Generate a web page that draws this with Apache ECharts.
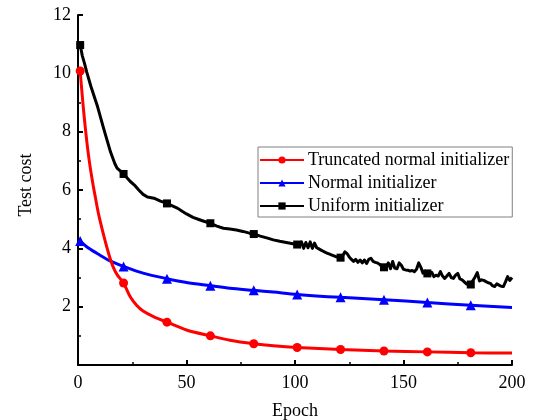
<!DOCTYPE html>
<html>
<head>
<meta charset="utf-8">
<script src="https://cdn.jsdelivr.net/npm/echarts@6/dist/echarts.min.js"></script>
<style>
  html, body { margin: 0; padding: 0; background: #fff; }
  #chart { width: 533px; height: 420px; }
</style>
</head>
<body>
<div id="chart"></div>
<script>
// Test cost per training epoch for three weight initializers
const seriesNames = ['Truncated normal initializer', 'Normal initializer', 'Uniform initializer'];

const truncEpochs = [1, 2, 3, 4, 5, 6, 7, 8, 9, 10, 12, 14, 16, 18, 21, 24, 27, 30, 35, 41, 50, 61, 70, 81, 90, 101, 121, 141, 161, 181, 200];
const truncCost   = [10.08, 9.2, 8.4, 7.7, 7.1, 6.6, 6.15, 5.75, 5.35, 5.0, 4.4, 3.85, 3.4, 3.1, 2.81, 2.35, 2.05, 1.85, 1.65, 1.47, 1.2, 1.0, 0.85, 0.73, 0.66, 0.6, 0.53, 0.48, 0.45, 0.42, 0.41];

const normalEpochs = [1, 5, 10, 15, 21, 30, 41, 50, 61, 70, 81, 90, 101, 121, 141, 161, 181, 200];
const normalCost   = [4.25, 4.0, 3.77, 3.56, 3.38, 3.15, 2.96, 2.83, 2.72, 2.63, 2.56, 2.5, 2.42, 2.32, 2.24, 2.14, 2.05, 1.97];

const uniformEpochs = [1, 2, 3, 4, 6, 9, 12, 15, 17, 18, 21, 24, 26, 28, 30, 32, 35, 38, 41, 44, 46, 48, 50, 53, 56, 58, 61, 64, 67, 70, 73, 76, 79, 81, 84, 87, 90, 93, 96, 99,
  100, 101, 102, 103, 104, 105, 106, 107, 108, 109, 110, 111, 112, 113, 114, 115, 116, 117, 118, 119,
  120, 121, 122, 123, 124, 125, 126, 127, 128, 129, 130, 131, 132, 133, 134, 135, 136, 137, 138, 139,
  140, 141, 142, 143, 144, 145, 146, 147, 148, 149, 150, 151, 152, 153, 154, 155, 156, 157, 158, 159,
  160, 161, 162, 163, 164, 165, 166, 167, 168, 169, 170, 171, 172, 173, 174, 175, 176, 177, 178, 179,
  180, 181, 182, 183, 184, 185, 186, 187, 188, 189, 190, 191, 192, 193, 194, 195, 196, 197, 198, 199, 200];
const uniformCost = [10.97, 10.6, 10.34, 10.05, 9.54, 8.86, 8.06, 7.3, 6.9, 6.75, 6.55, 6.3, 6.17, 6.0, 5.85, 5.76, 5.72, 5.62, 5.54, 5.44, 5.37, 5.27, 5.18, 5.06, 4.98, 4.93, 4.86, 4.76, 4.69, 4.66, 4.63, 4.58, 4.52, 4.49, 4.42, 4.36, 4.29, 4.24, 4.2, 4.16,
  4.15, 4.13, 4.08, 4.22, 4.0, 4.2, 4.02, 4.22, 4.0, 4.18, 4.02, 3.98, 3.94, 3.9, 3.86, 3.83, 3.8, 3.77, 3.74, 3.71,
  3.69, 3.68, 3.75, 3.88, 3.82, 3.7, 3.62, 3.55, 3.62, 3.52, 3.6, 3.5, 3.6, 3.48, 3.62, 3.66, 3.55, 3.52, 3.5, 3.45,
  3.38, 3.35, 3.38, 3.5, 3.3, 3.55, 3.32, 3.3, 3.5, 3.42, 3.28, 3.26, 3.25, 3.22, 3.24, 3.2, 3.28, 3.5, 3.35, 3.15,
  3.22, 3.14, 3.1, 3.18, 3.03, 3.08, 3.05, 3.2, 3.05, 2.97, 3.05, 3.14, 3.0, 2.97, 3.08, 3.14, 2.95, 2.92, 2.85, 2.78,
  2.75, 2.76, 2.9, 3.02, 3.17, 2.88, 2.92, 2.9, 2.86, 2.82, 2.8, 2.72, 2.69, 2.78, 2.74, 2.7, 2.69, 2.85, 3.03, 2.9, 3.0];

// Epochs that carry a marker on every curve
const markerEpochs = [1, 21, 41, 61, 81, 101, 121, 141, 161, 181];

const xTicks = { min: 0, max: 200, interval: 50 };
const yTicks = { min: 0, max: 12, interval: 2 };

const font = "'Liberation Serif', 'Times New Roman', serif";

function buildData(epochs, values) {
  return epochs.map((e, i) => {
    const item = { value: [e, values[i]] };
    if (markerEpochs.indexOf(e) < 0) item.symbol = 'none';
    return item;
  });
}

const chart = echarts.init(document.getElementById('chart'), null, { renderer: 'canvas' });

const axisCommon = {
  axisLine: { show: true, lineStyle: { color: '#000', width: 2 } },
  axisTick: { show: true, inside: true, length: 5, lineStyle: { color: '#000', width: 2 } },
  minorTick: { show: true, splitNumber: 2, length: 3, lineStyle: { color: '#000', width: 1.5 } },
  splitLine: { show: false },
  axisLabel: { color: '#000', fontFamily: font, fontSize: 18, margin: 7 },
  nameTextStyle: { color: '#000', fontFamily: font, fontSize: 18 }
};

chart.setOption({
  animation: false,
  backgroundColor: '#fff',
  grid: { left: 78, right: 21, top: 15, bottom: 55, containLabel: false, outerBoundsMode: 'none' },
  xAxis: Object.assign({}, axisCommon, {
    type: 'value',
    min: xTicks.min, max: xTicks.max, interval: xTicks.interval,
    name: 'Epoch', nameLocation: 'middle', nameGap: 37,
    axisLabel: Object.assign({}, axisCommon.axisLabel, { margin: 9 })
  }),
  yAxis: Object.assign({}, axisCommon, {
    type: 'value',
    min: yTicks.min, max: yTicks.max, interval: yTicks.interval,
    name: 'Test cost', nameLocation: 'middle', nameGap: 43,
    nameTextStyle: Object.assign({}, axisCommon.nameTextStyle, { padding: [0, 0, 0, 10] }),
    axisLabel: Object.assign({}, axisCommon.axisLabel, { showMinLabel: false })
  }),
  legend: {
    left: 258, top: 147,
    orient: 'vertical',
    itemWidth: 44, itemHeight: 9, itemGap: 5,
    padding: [4, 3, 2, 1],
    borderColor: '#808080', borderWidth: 1,
    textStyle: { color: '#000', fontFamily: font, fontSize: 18, lineHeight: 18, padding: [0, 0, 0, -1] },
    data: seriesNames
  },
  series: [
    {
      name: seriesNames[0], type: 'line', smooth: 0.3,
      symbol: 'circle', symbolSize: 9,
      color: '#ff0000',
      lineStyle: { width: 3, color: '#ff0000' },
      itemStyle: { color: '#ff0000' },
      data: buildData(truncEpochs, truncCost), z: 4
    },
    {
      name: seriesNames[1], type: 'line', smooth: 0.3,
      symbol: 'triangle', symbolSize: 10,
      color: '#0000ff',
      lineStyle: { width: 3, color: '#0000ff' },
      itemStyle: { color: '#0000ff' },
      data: buildData(normalEpochs, normalCost), z: 3
    },
    {
      name: seriesNames[2], type: 'line', smooth: false,
      symbol: 'rect', symbolSize: 8,
      color: '#000',
      lineStyle: { width: 3, color: '#000', join: 'round' },
      itemStyle: { color: '#000' },
      data: buildData(uniformEpochs, uniformCost), z: 2
    }
  ]
});
</script>
</body>
</html>
